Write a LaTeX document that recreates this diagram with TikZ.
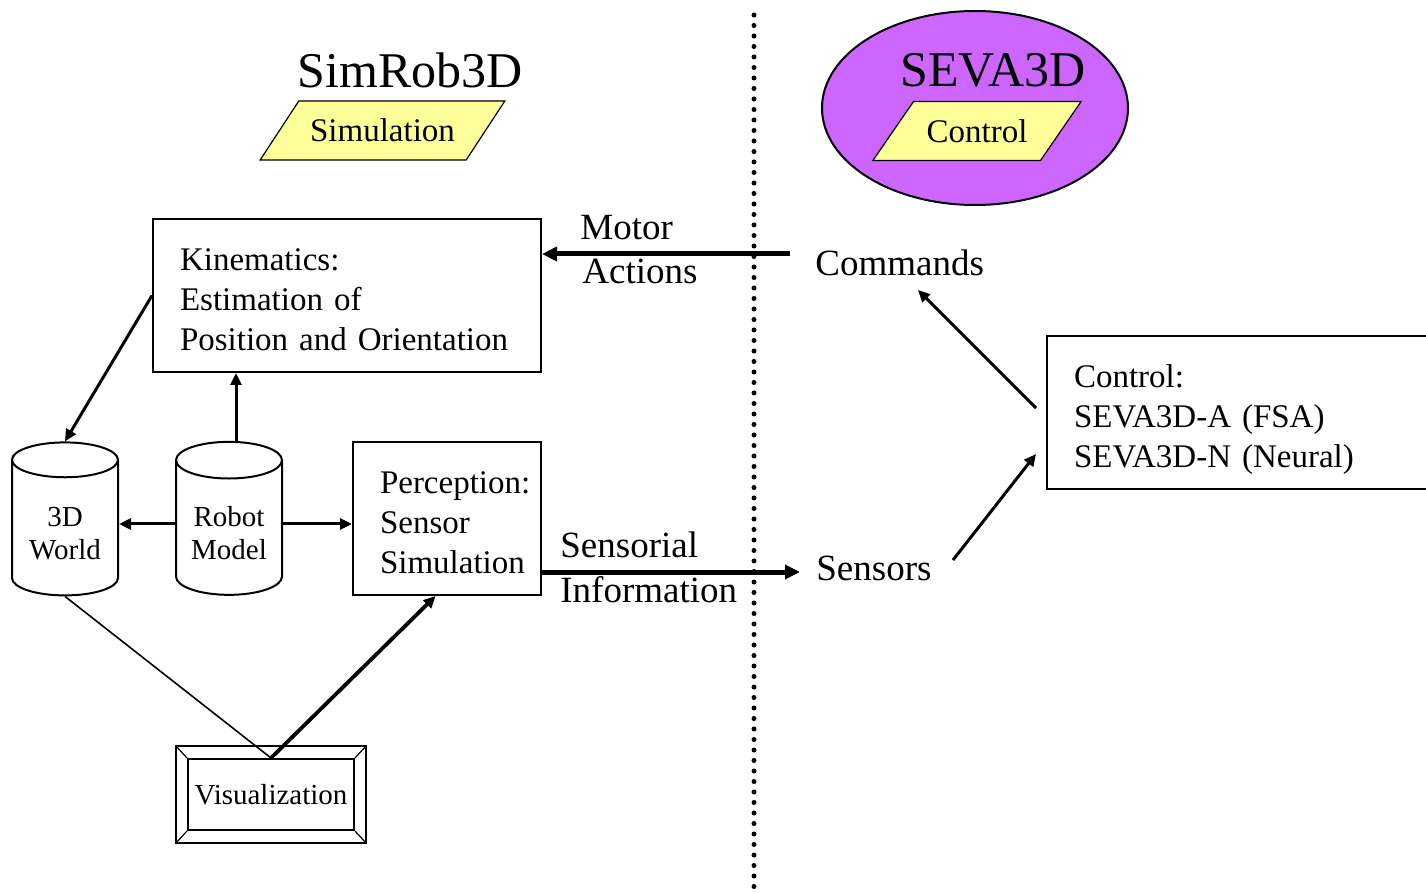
\documentclass[tikz,border=0pt]{standalone}
\usepackage{fontspec}
\setmainfont{Liberation Serif}
\usetikzlibrary{arrows.meta, positioning, shapes.geometric, calc}
\definecolor{simyellow}{RGB}{255,255,153}
\definecolor{sevaviolet}{RGB}{204,102,255}
\newcommand{\boxtop}{\rule{0pt}{19pt}}
\newcommand{\boxbot}{\rule[-4pt]{0pt}{4pt}}
\newcommand{\drumtop}{\rule{0pt}{13pt}}

\begin{document}
\begin{tikzpicture}[
    x=0.5pt, y=-0.5pt,
    box/.style={draw, line width=1pt, minimum height=76.5pt,
        align=left, font=\fontsize{16.5}{20}\selectfont, inner xsep=13.5pt},
    drum/.style={draw, line width=1pt, cylinder, shape border rotate=90, aspect=0.46,
        minimum width=53pt, minimum height=76.5pt, align=center, inner sep=1pt,
        font=\fontsize{14.5}{16.5}\selectfont},
    tag/.style={draw, line width=0.6pt, fill=simyellow, trapezium,
        trapezium left angle=45, trapezium right angle=135,
        trapezium stretches=true, minimum height=29.5pt,
        font=\fontsize{16.5}{20}\selectfont},
    title/.style={font=\fontsize{25}{30}\selectfont},
    lbl/.style={font=\fontsize{18.5}{22}\selectfont, inner sep=0pt, anchor=west},
    bigarrow/.style={-{Triangle[length=7.5pt, width=7pt]}, line width=2.5pt},
    arrow/.style={-{Triangle[length=6pt, width=5.5pt]}, line width=1.5pt}
]
\useasboundingbox (0,0) rectangle (1426,893);

% SimRob3D side
\node[title] (simtitle) at (410,70) {SimRob3D};
\node[tag, minimum width=122.5pt] (simtag) at (382.5,130.5) {Simulation};

% SEVA3D side
\node[draw, line width=1pt, ellipse, fill=sevaviolet,
    minimum width=153pt, minimum height=97pt] (seva) at (975,108) {};
\node[title] (sevatitle) at (993,70) {SEVA3D};
\node[tag, minimum width=105pt] (ctrltag) at (977,131) {Control};

% border between the two
\draw[line width=2.5pt, line cap=round, dash pattern=on 0pt off 5.25pt]
    (754,15) -- (754,893);

% blocks
\node[box, text width=167pt] (kin) at (347,295.5)
    {\boxtop Kinematics:\\Estimation of\\Position and Orientation\boxbot};
\node[box, text width=67pt] (perc) at (447,518.5)
    {\boxtop Perception:\\Sensor\\Simulation\boxbot};
\node[box, text width=169.5pt] (ctrl) at (1243.5,413)
    {\boxtop Control:\\SEVA3D-A (FSA)\\SEVA3D-N (Neural)\boxbot};

\node[drum] (world) at (65,530.5) {\drumtop 3D\\World};
\node[drum] (robot) at (229,530.5) {\drumtop Robot\\Model};

\node[draw, line width=1pt, minimum width=83pt, minimum height=35.5pt,
    inner sep=1pt, font=\fontsize{14.5}{16.5}\selectfont] (vis) at (271,794.5) {Visualization};
\draw[line width=1pt] ($(vis.north west)+(-11,-12)$) rectangle ($(vis.south east)+(11,12)$);
\foreach \c/\dx/\dy in {north west/-11/-12, north east/11/-12,
    south west/-11/12, south east/11/12}
    \draw[line width=0.6pt] (vis.\c) -- ++(\dx,\dy);

% labels
\node[lbl] (motor) at (580,228) {Motor};
\node[lbl] (actions) at (582,271) {Actions};
\node[lbl] (cmd) at (815,263) {Commands};
\node[lbl] (sensorial) at (560,545) {Sensorial};
\node[lbl] (information) at (560,590) {Information};
\node[lbl] (sens) at (816,568) {Sensors};

\coordinate (mstart) at (790,254);
\coordinate (send) at (800,572);
\coordinate (cmdfoot) at (918,290);
\coordinate (cout) at (1036,408);
\coordinate (cin) at (1036,454);
\coordinate (senshead) at (953,560);
\coordinate (rtop) at ([xshift=3.5pt]robot.north);

% connections
\draw[bigarrow] (mstart) -- (mstart -| kin.east);
\draw[bigarrow] (perc.east |- send) -- (send);
\draw[arrow] (cout) -- (cmdfoot);
\draw[arrow] (senshead) -- (cin);

\draw[arrow] (rtop) -- (rtop |- kin.south);
\draw[arrow] ([yshift=3.25pt]robot.west) -- ([yshift=3.25pt]robot.west -| world.east);
\draw[arrow] ([yshift=3.25pt]robot.east) -- ([yshift=3.25pt]robot.east -| perc.west);
\draw[arrow] (kin.west) -- (world.north);
\draw[line width=0.8pt] (world.south) -- (vis.north);
\draw[arrow, line width=1.9pt] (vis.north) -- ($(perc.south west)!0.44!(perc.south east)$);

\end{tikzpicture}
\end{document}
